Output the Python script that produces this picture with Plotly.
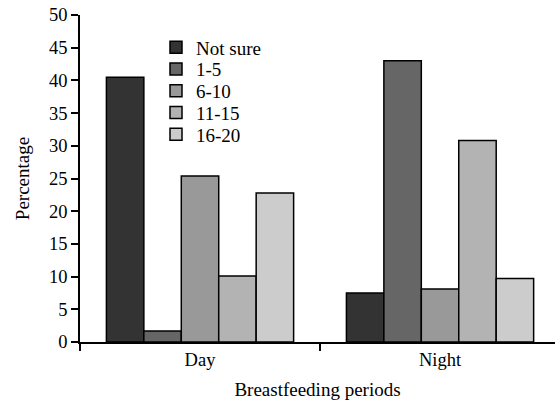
import plotly.graph_objects as go

categories = ["Day", "Night"]
series_names = ["Not sure", "1-5", "6-10", "11-15", "16-20"]
series_values = {
    "Not sure": [40.5, 7.5],
    "1-5": [1.7, 43.0],
    "6-10": [25.4, 8.1],
    "11-15": [10.1, 30.8],
    "16-20": [22.8, 9.7],
}
colors = ["#333333", "#666666", "#999999", "#b3b3b3", "#cccccc"]
y_ticks = [0, 5, 10, 15, 20, 25, 30, 35, 40, 45, 50]

font_family = "Liberation Serif"
tick_font = dict(family=font_family, size=18.5, color="black")
title_font = dict(family=font_family, size=19, color="black")
legend_font = dict(family=font_family, size=19, color="black")

# legend row layout (paper coords within plot area)
legend_x = 0.16
legend_top = 0.901
legend_step = 0.0665

fig = go.Figure()
legend_layouts = {}
for i, (name, col) in enumerate(zip(series_names, colors)):
    key = "legend" if i == 0 else f"legend{i + 1}"
    fig.add_trace(go.Bar(
        x=categories, y=series_values[name], name=name,
        marker=dict(color=col, line=dict(color="black", width=1.5)),
        legend=key,
    ))
    legend_layouts[key] = dict(
        x=legend_x, y=legend_top - i * legend_step,
        xanchor="left", yanchor="middle",
        font=legend_font, bgcolor="rgba(0,0,0,0)", itemwidth=30,
    )

fig.update_layout(
    width=555, height=400,
    margin=dict(l=80, r=0, t=15, b=58),
    paper_bgcolor="white", plot_bgcolor="white",
    barmode="group", bargap=0.22, bargroupgap=0,
    font=tick_font,
    showlegend=True,
    xaxis=dict(
        range=[-0.5, 1.479], showline=True, linecolor="black", linewidth=1.5,
        ticks="outside", tickson="boundaries", ticklen=7, tickcolor="black", tickwidth=1.5,
        tickfont=tick_font,
        title=dict(text="Breastfeeding periods", standoff=15, font=title_font),
        showgrid=False, zeroline=False,
    ),
    yaxis=dict(
        range=[0, 50], tickvals=y_ticks, showline=True, linecolor="black", linewidth=1.5,
        ticks="outside", ticklen=7, tickcolor="black", tickwidth=2,
        tickfont=tick_font,
        title=dict(text="Percentage", standoff=14, font=title_font),
        showgrid=False, zeroline=False,
    ),
    **legend_layouts,
)

fig.write_html(
    "out.html",
    config={"displayModeBar": False},
    post_script="document.body.style.margin='0';document.body.style.padding='0';",
)
